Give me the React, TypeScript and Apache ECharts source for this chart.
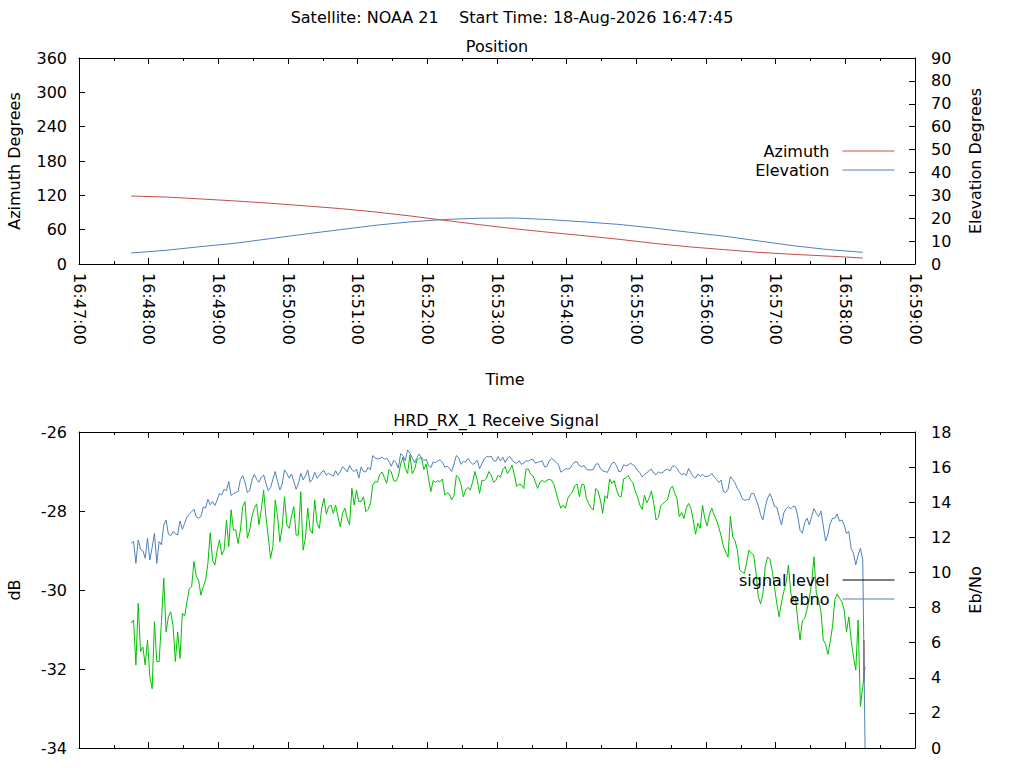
import React, { useEffect, useRef } from "react";
import * as echarts from "echarts";

// ---------- texts ----------
const CHART_TITLE = "Satellite: NOAA 21    Start Time: 18-Aug-2026 16:47:45";
const POSITION_TITLE = "Position";
const SIGNAL_TITLE = "HRD_RX_1 Receive Signal";

// ---------- time axis ----------
const TIME_AXIS_START = "16:47:00";
const TIME_AXIS_END = "16:59:00";
const TIME_TICK_SECONDS = 60;

// ---------- position panel ----------
const positionTimes = [
  "16:47:45", "16:48:15", "16:48:45", "16:49:15", "16:49:45", "16:50:15",
  "16:50:45", "16:51:15", "16:51:45", "16:52:15", "16:52:45", "16:53:15",
  "16:53:45", "16:54:15", "16:54:45", "16:55:15", "16:55:45", "16:56:15",
  "16:56:45", "16:57:15", "16:57:45", "16:58:15",
];
const azimuthDeg = [
  118.8, 117.0, 113.7, 110.1, 106.1, 101.6, 96.8, 91.0, 84.0, 76.3, 68.7,
  61.6, 55.3, 49.4, 43.2, 36.1, 30.1, 25.2, 20.4, 16.9, 13.9, 10.5,
];
const elevationDeg = [
  4.8, 6.0, 7.6, 9.1, 11.1, 13.1, 15.0, 16.9, 18.4, 19.45, 20.0,
  20.1, 19.4, 18.4, 17.3, 15.7, 13.9, 12.2, 10.1, 8.0, 6.3, 5.1,
];

// ---------- receive-signal panel (one sample every 2 s from 16:47:45) ----------
const SIGNAL_START = "16:47:45";
const SIGNAL_STEP_S = 2;
const signalLevelDb = [
  -30.84, -30.76, -31.90, -30.34, -31.56, -31.44, -31.90, -31.27, -32.19, -32.50,
  -30.80, -31.81, -31.81, -30.80, -29.70, -31.06, -30.68, -30.55, -30.91, -31.81,
  -31.06, -31.73, -30.59, -30.66, -30.30, -29.96, -29.92, -29.28, -29.65, -29.75,
  -30.13, -29.92, -29.75, -29.33, -28.55, -29.24, -29.37, -28.99, -28.73, -29.11,
  -28.99, -28.23, -28.90, -27.97, -28.48, -28.48, -28.82, -28.48, -27.89, -27.76,
  -28.69, -28.48, -28.14, -27.93, -27.82, -28.35, -27.97, -27.47, -28.14, -28.65,
  -29.20, -28.90, -27.72, -28.14, -28.78, -28.40, -27.64, -28.35, -28.44, -28.13,
  -27.89, -28.61, -28.61, -27.51, -28.99, -28.69, -27.93, -28.48, -28.57, -27.72,
  -28.31, -28.44, -27.93, -27.68, -28.08, -27.89, -27.85, -28.06, -27.85, -28.13,
  -28.40, -28.06, -27.93, -28.19, -28.35, -27.43, -27.85, -27.47, -27.76, -27.76,
  -27.64, -28.02, -27.96, -27.81, -27.34, -27.26, -27.27, -27.08, -27.01, -27.15,
  -27.30, -26.95, -27.01, -27.23, -27.25, -27.13, -26.81, -26.64, -26.92, -27.05,
  -26.58, -27.06, -26.95, -26.71, -26.67, -26.65, -26.95, -26.81, -27.17, -27.51,
  -27.23, -27.28, -27.23, -27.26, -27.19, -27.60, -27.54, -27.57, -27.72, -27.60,
  -27.10, -27.15, -27.33, -27.64, -27.47, -27.40, -27.47, -27.27, -27.00, -27.22,
  -27.55, -27.22, -27.23, -27.17, -27.00, -27.09, -27.27, -27.23, -27.09, -27.15,
  -26.95, -26.88, -27.05, -26.96, -26.84, -27.09, -27.38, -27.32, -27.34, -27.43,
  -26.94, -26.94, -27.07, -27.11, -27.26, -27.43, -27.27, -27.22, -27.27, -27.22,
  -27.20, -27.22, -27.33, -27.54, -27.76, -27.93, -27.85, -27.93, -27.68, -27.59,
  -27.51, -27.36, -27.32, -27.64, -27.32, -27.34, -27.68, -27.81, -27.92, -27.97,
  -27.43, -27.49, -27.72, -28.06, -27.61, -27.68, -27.19, -27.30, -27.23, -27.47,
  -27.62, -27.64, -27.19, -27.16, -27.10, -27.22, -27.28, -27.49, -27.64, -27.85,
  -27.96, -27.60, -27.79, -27.68, -27.49, -27.81, -28.23, -28.16, -27.87, -27.81,
  -27.76, -27.71, -27.45, -27.37, -27.54, -27.68, -28.14, -28.04, -28.19, -27.93,
  -27.81, -27.93, -28.23, -28.59, -28.31, -28.44, -27.85, -28.19, -28.38, -28.08,
  -27.93, -28.10, -28.23, -28.41, -28.63, -28.90, -29.04, -29.17, -28.13, -28.65,
  -28.75, -28.99, -29.49, -29.54, -29.58, -29.31, -28.99, -29.07, -29.11, -29.54,
  -30.17, -30.35, -30.10, -29.41, -29.17, -29.21, -29.51, -29.93, -30.34, -30.68,
  -30.31, -30.04, -29.81, -29.37, -30.08, -30.25, -30.15, -30.76, -31.27, -30.78,
  -30.72, -30.49, -30.22, -29.81, -29.16, -30.08, -30.25, -30.55, -31.27, -31.37,
  -31.63, -31.31, -30.91, -30.24, -30.10, -30.21, -30.30, -30.51, -31.06, -30.68,
  -31.27, -31.69, -32.03, -30.76, -32.95, -32.45, -31.94,
];
const ebnoValues = [
  11.66, 11.76, 10.52, 11.85, 11.32, 11.24, 10.81, 11.95, 10.71, 11.43,
  12.23, 10.52, 11.76, 11.57, 12.71, 12.99, 12.17, 12.10, 12.33, 12.19,
  12.14, 12.93, 12.46, 12.80, 13.18, 13.33, 13.45, 13.60, 13.16, 13.09,
  13.18, 13.73, 13.66, 14.17, 13.85, 14.04, 13.81, 14.13, 14.49, 14.42,
  14.74, 14.66, 15.18, 14.38, 14.49, 14.55, 14.61, 15.29, 15.52, 15.12,
  14.55, 14.66, 15.27, 15.59, 15.31, 15.14, 15.42, 15.56, 15.08, 14.66,
  14.83, 15.31, 15.75, 15.18, 14.70, 15.04, 15.84, 15.65, 15.37, 15.61,
  15.18, 14.74, 15.06, 15.65, 15.27, 15.50, 15.84, 15.14, 15.31, 15.71,
  15.37, 15.50, 15.73, 15.80, 15.54, 15.65, 15.56, 15.50, 15.80, 15.54,
  15.75, 16.01, 15.90, 15.73, 16.09, 15.84, 15.75, 15.88, 15.37, 16.01,
  15.75, 15.73, 15.99, 15.84, 16.66, 16.51, 16.47, 16.49, 16.58, 16.45,
  16.51, 16.30, 16.05, 16.39, 16.26, 15.94, 16.77, 16.66, 16.37, 16.98,
  16.79, 16.51, 16.24, 16.52, 16.75, 16.52, 16.37, 16.45, 16.11, 15.97,
  16.30, 16.26, 16.35, 16.41, 16.28, 15.99, 16.05, 15.94, 15.75, 16.18,
  16.66, 16.52, 16.16, 16.32, 16.30, 16.49, 16.30, 16.16, 16.22, 16.39,
  15.92, 16.18, 16.47, 16.60, 16.58, 16.62, 16.37, 16.33, 16.60, 16.35,
  16.56, 16.26, 16.52, 16.60, 16.41, 16.26, 16.22, 16.37, 16.16, 16.22,
  16.37, 16.33, 16.43, 16.45, 16.22, 16.26, 16.32, 16.35, 16.01, 16.03,
  16.35, 16.49, 16.39, 16.26, 16.13, 15.71, 15.80, 15.92, 15.88, 15.94,
  16.16, 16.30, 16.30, 16.07, 16.03, 16.09, 15.88, 15.84, 15.84, 15.86,
  16.16, 16.20, 15.94, 15.78, 15.76, 15.69, 15.95, 16.22, 16.28, 16.07,
  15.73, 15.78, 16.13, 16.07, 16.13, 16.22, 16.13, 16.03, 15.80, 15.69,
  15.44, 15.57, 15.67, 15.80, 15.88, 15.65, 15.56, 15.73, 15.65, 15.71,
  15.84, 15.88, 15.78, 16.05, 16.07, 15.94, 15.71, 15.57, 15.63, 15.52,
  15.92, 15.69, 15.46, 15.38, 15.61, 15.46, 15.59, 15.46, 15.46, 15.52,
  15.63, 15.44, 15.31, 15.12, 15.27, 14.61, 14.55, 14.74, 15.46, 15.29,
  15.10, 14.78, 14.59, 14.23, 14.11, 14.15, 14.13, 14.49, 14.51, 14.17,
  13.83, 13.30, 12.99, 13.71, 14.23, 14.49, 14.19, 13.75, 13.73, 13.18,
  12.71, 13.39, 13.62, 13.73, 13.62, 13.77, 13.75, 13.22, 12.40, 12.23,
  12.84, 13.09, 12.71, 13.18, 13.64, 13.37, 13.18, 13.50, 12.65, 11.78,
  12.17, 12.80, 13.09, 13.09, 13.33, 12.92, 12.99, 12.71, 12.23, 12.33,
  11.38, 11.09, 10.43, 10.99, 11.38, 10.71, 0,
];
// short red segment at the very end of the pass
const tailTimes = ["16:58:16", "16:58:16"];
const tailDb = [-31.27, -32.33];

// ---------- axis ticks ----------
const azimuthTicks = { min: 0, max: 360, interval: 60 };
const elevationTicks = { min: 0, max: 90, interval: 10 };
const dbTicks = { min: -34, max: -26, interval: 2 };
const ebnoTicks = { min: 0, max: 18, interval: 2 };

// ---------- style ----------
const FONT = "'DejaVu Sans', sans-serif";
const FONT_SIZE = 16;
const RED = "#c0504d";
const BLUE = "#4f81bd";
const GREEN = "#00c000";

const toSeconds = (s: string) => {
  const [h, m, sec] = s.split(":").map(Number);
  return h * 3600 + m * 60 + sec;
};
const AXIS0 = toSeconds(TIME_AXIS_START);
const AXIS_SPAN = toSeconds(TIME_AXIS_END) - AXIS0;
const clock = (v: number) => {
  const t = AXIS0 + Math.round(v);
  const h = Math.floor(t / 3600);
  const m = Math.floor((t % 3600) / 60);
  const s = t % 60;
  return [h, m, s].map((x) => String(x).padStart(2, "0")).join(":");
};

export default function App() {
  const ref = useRef<HTMLDivElement>(null);

  useEffect(() => {
    if (!ref.current) return;
    const chart = echarts.init(ref.current, undefined, { renderer: "svg" });

    const lineAxis = {
      axisLine: { show: true, onZero: false, lineStyle: { color: "#000", width: 1 } },
      axisTick: { show: true, inside: true, length: 6, lineStyle: { color: "#000", width: 1 } },
      splitLine: { show: false },
    };
    const textStyle = { color: "#000", fontSize: FONT_SIZE, fontFamily: FONT };

    const timeAxis = (gridIndex: number, position: string, labels: boolean) => ({
      type: "value",
      gridIndex,
      position,
      min: 0,
      max: AXIS_SPAN,
      interval: TIME_TICK_SECONDS,
      ...lineAxis,
      minorTick: { show: true, splitNumber: 2, length: 3, lineStyle: { color: "#000", width: 1 } },
      axisLabel: labels
        ? { show: true, rotate: -90, margin: 9, formatter: clock, ...textStyle }
        : { show: false },
    });

    const yAxis = (
      gridIndex: number,
      position: string,
      ticks: { min: number; max: number; interval: number },
      name: string,
      nameGap: number
    ) => ({
      type: "value",
      gridIndex,
      position,
      ...ticks,
      ...lineAxis,
      axisLabel: { show: true, margin: position === "left" ? 12 : 16, ...textStyle },
      name,
      nameLocation: "middle",
      nameRotate: 90,
      nameGap,
      nameTextStyle: textStyle,
    });

    const sigStart = toSeconds(SIGNAL_START) - AXIS0;
    const legendBase = {
      orient: "vertical",
      align: "right",
      right: 129,
      itemWidth: 52,
      itemHeight: 14,
      itemGap: 3,
      padding: 0,
      selectedMode: false,
      itemStyle: { opacity: 0 },
      lineStyle: { width: 1 },
      textStyle: { ...textStyle, padding: [0, 8, 0, 0] },
    };

    const lineSeries = (name: string, x: number, y: number, color: string, data: number[][], width = 1) => ({
      name,
      type: "line",
      xAxisIndex: x,
      yAxisIndex: y,
      showSymbol: false,
      symbol: "none",
      color,
      lineStyle: { color, width },
      data,
    });

    chart.setOption({
      animation: false,
      backgroundColor: "#fff",
      textStyle: { fontFamily: FONT },
      graphic: [
        {
          type: "text",
          x: 512,
          y: 17,
          style: { text: CHART_TITLE, fill: "#000", fontSize: FONT_SIZE, fontFamily: FONT, align: "center", verticalAlign: "middle" },
        },
        {
          type: "text",
          x: 497,
          y: 46,
          style: { text: POSITION_TITLE, fill: "#000", fontSize: FONT_SIZE, fontFamily: FONT, align: "center", verticalAlign: "middle" },
        },
        {
          type: "text",
          x: 496,
          y: 420,
          style: { text: SIGNAL_TITLE, fill: "#000", fontSize: FONT_SIZE, fontFamily: FONT, align: "center", verticalAlign: "middle" },
        },
      ],
      legend: [
        { ...legendBase, top: 143, data: ["Azimuth", "Elevation"] },
        {
          ...legendBase,
          top: 572,
          data: [
            { name: "signal level", itemStyle: { opacity: 0 }, lineStyle: { color: "#000", width: 1 } },
            "ebno",
          ],
        },
      ],
      grid: [
        { left: 79, top: 58, width: 836, height: 206, outerBoundsMode: "none" },
        { left: 79, top: 432, width: 836, height: 316, outerBoundsMode: "none" },
      ],
      xAxis: [
        {
          ...timeAxis(0, "bottom", true),
          name: "Time",
          nameLocation: "middle",
          nameGap: 107,
          nameTextStyle: { ...textStyle, padding: [0, 0, 0, 16] },
        },
        timeAxis(0, "top", false),
        timeAxis(1, "bottom", false),
        timeAxis(1, "top", false),
      ],
      yAxis: [
        yAxis(0, "left", azimuthTicks, "Azimuth Degrees", 57),
        yAxis(0, "right", elevationTicks, "Elevation Degrees", 52),
        yAxis(1, "left", dbTicks, "dB", 57),
        yAxis(1, "right", ebnoTicks, "Eb/No", 52),
      ],
      series: [
        lineSeries("Azimuth", 0, 0, RED, positionTimes.map((t, i) => [toSeconds(t) - AXIS0, azimuthDeg[i]])),
        lineSeries("Elevation", 0, 1, BLUE, positionTimes.map((t, i) => [toSeconds(t) - AXIS0, elevationDeg[i]])),
        lineSeries("signal level", 2, 2, GREEN, signalLevelDb.map((v, i) => [sigStart + i * SIGNAL_STEP_S, v])),
        lineSeries("tail", 2, 2, RED, tailTimes.map((t, i) => [toSeconds(t) - AXIS0, tailDb[i]]), 1.5),
        lineSeries("ebno", 2, 3, BLUE, ebnoValues.map((v, i) => [sigStart + i * SIGNAL_STEP_S, v])),
      ],
    });

    return () => chart.dispose();
  }, []);

  return (
    <div
      ref={ref}
      style={{ position: "absolute", left: 0, top: 0, width: 1024, height: 768, background: "#fff" }}
    />
  );
}
